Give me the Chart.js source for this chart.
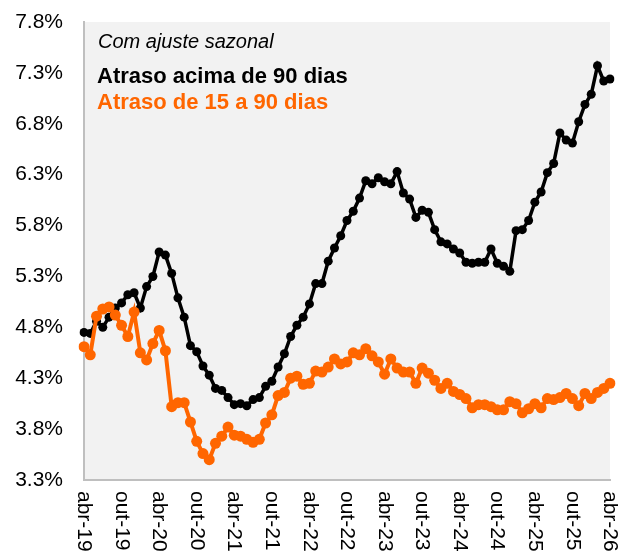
<!DOCTYPE html>
<html>
<head>
<meta charset="utf-8">
<script src="https://cdn.jsdelivr.net/npm/chart.js@4/dist/chart.umd.min.js"></script>
<style>
  html, body { margin: 0; padding: 0; background: #ffffff; }
  #wrap { width: 618px; height: 556px; position: relative; }
</style>
</head>
<body>
<div id="wrap"><canvas id="c" width="618" height="556"></canvas></div>
<script>
// Months (abr-19 .. abr-26)
const monthNames = ['jan','fev','mar','abr','mai','jun','jul','ago','set','out','nov','dez'];
const categories = [];
for (let i = 0; i < 85; i++) {
  const m = (3 + i) % 12;
  const y = 19 + Math.floor((3 + i) / 12);
  categories.push(monthNames[m] + '-' + y);
}

const seriesNames = ['Atraso acima de 90 dias', 'Atraso de 15 a 90 dias'];
const subtitle = 'Com ajuste sazonal';

const over90 = [
  4.75, 4.74, 4.86, 4.80, 4.90, 4.99, 5.04, 5.12, 5.14, 4.99,
  5.20, 5.30, 5.54, 5.51, 5.33, 5.09, 4.90, 4.62, 4.56, 4.42,
  4.33, 4.20, 4.18, 4.11, 4.04, 4.05, 4.03, 4.09, 4.11, 4.22,
  4.27, 4.41, 4.54, 4.71, 4.82, 4.90, 5.03, 5.23, 5.23, 5.45,
  5.58, 5.70, 5.85, 5.94, 6.07, 6.24, 6.21, 6.27, 6.23, 6.21,
  6.33, 6.12, 6.06, 5.88, 5.95, 5.93, 5.76, 5.64, 5.62, 5.57,
  5.53, 5.44, 5.43, 5.44, 5.44, 5.57, 5.43, 5.40, 5.35, 5.75,
  5.76, 5.85, 6.03, 6.13, 6.32, 6.41, 6.71, 6.64, 6.61, 6.82,
  6.99, 7.09, 7.37, 7.22, 7.24
];

const from15to90 = [
  4.61, 4.53, 4.91, 4.98, 5.00, 4.92, 4.82, 4.71, 4.95, 4.55,
  4.48, 4.64, 4.77, 4.57, 4.02, 4.06, 4.06, 3.87, 3.68, 3.56,
  3.50, 3.66, 3.73, 3.82, 3.74, 3.73, 3.70, 3.67, 3.70, 3.86,
  3.94, 4.13, 4.16, 4.30, 4.32, 4.24, 4.25, 4.37, 4.36, 4.41,
  4.49, 4.44, 4.46, 4.55, 4.53, 4.59, 4.52, 4.46, 4.34, 4.49,
  4.40, 4.36, 4.36, 4.25, 4.40, 4.35, 4.28, 4.20, 4.25, 4.17,
  4.14, 4.10, 4.01, 4.04, 4.04, 4.02, 3.99, 3.99, 4.07, 4.05,
  3.96, 4.00, 4.05, 4.01, 4.10, 4.09, 4.11, 4.15, 4.10, 4.03,
  4.15, 4.10, 4.16, 4.20, 4.25
];

const yMin = 3.3, yMax = 7.8, yStep = 0.5;
const labelEvery = 6;

const BLACK = '#000000';
const ORANGE = '#ff6600';

const bgPlugin = {
  id: 'plotBg',
  beforeDraw(chart) {
    const {ctx, chartArea: a} = chart;
    ctx.save();
    ctx.fillStyle = '#f2f2f2';
    ctx.fillRect(a.left, a.top, a.right - a.left, a.bottom - a.top);
    ctx.restore();
  }
};

const textPlugin = {
  id: 'texts',
  afterDraw(chart) {
    const {ctx, chartArea: a} = chart;
    const xs = chart.scales.x;
    ctx.save();
    // rotated x labels (reading top to bottom)
    ctx.fillStyle = '#000';
    ctx.font = '21px "Liberation Sans", Arial, sans-serif';
    ctx.textAlign = 'left';
    ctx.textBaseline = 'middle';
    for (let i = 0; i < categories.length; i += labelEvery) {
      const x = xs.getPixelForValue(i);
      ctx.save();
      ctx.translate(x, a.bottom + 11);
      ctx.rotate(Math.PI / 2);
      ctx.fillText(categories[i], 0, 0);
      ctx.restore();
    }
    // in-plot legend texts
    ctx.textBaseline = 'alphabetic';
    ctx.font = 'italic 20px "Liberation Sans", Arial, sans-serif';
    ctx.fillStyle = '#000';
    ctx.fillText(subtitle, a.left + 14, a.top + 26);
    ctx.font = 'bold 22px "Liberation Sans", Arial, sans-serif';
    ctx.fillStyle = BLACK;
    ctx.fillText(chart.data.datasets[0].label, a.left + 13, a.top + 61);
    ctx.fillStyle = ORANGE;
    ctx.fillText(chart.data.datasets[1].label, a.left + 13, a.top + 87);
    ctx.restore();
  }
};

new Chart(document.getElementById('c'), {
  type: 'line',
  data: {
    labels: categories,
    datasets: [
      {
        label: seriesNames[0],
        data: over90,
        borderColor: BLACK,
        backgroundColor: BLACK,
        borderWidth: 3.5,
        pointRadius: 4.5,
        pointBorderWidth: 0,
        pointBackgroundColor: BLACK,
        tension: 0,
        order: 1
      },
      {
        label: seriesNames[1],
        data: from15to90,
        borderColor: ORANGE,
        backgroundColor: ORANGE,
        borderWidth: 4,
        pointRadius: 5.5,
        pointBorderWidth: 0,
        pointBackgroundColor: ORANGE,
        tension: 0,
        order: 0
      }
    ]
  },
  options: {
    responsive: false,
    animation: false,
    devicePixelRatio: 1,
    layout: { padding: { top: 22, right: 8, left: 0, bottom: 0 } },
    plugins: { legend: { display: false }, tooltip: { enabled: false } },
    scales: {
      x: {
        type: 'category',
        offset: false,
        grid: { display: false, drawTicks: false },
        border: { display: true, color: '#bfbfbf', width: 2 },
        ticks: { display: false },
        afterFit(scale) { scale.height = 76; scale.paddingLeft = 0; scale.paddingRight = 0; }
      },
      y: {
        min: yMin,
        max: yMax,
        grid: { display: false, drawTicks: false },
        border: { display: true, color: '#bfbfbf', width: 2 },
        ticks: {
          stepSize: yStep,
          padding: 21,
          color: '#000',
          font: { family: '"Liberation Sans", Arial, sans-serif', size: 21 },
          callback: (v) => Number(v).toFixed(1) + '%'
        },
        afterFit(scale) { scale.width = 84; scale.paddingTop = 0; scale.paddingBottom = 0; }
      }
    }
  },
  plugins: [bgPlugin, textPlugin]
});
</script>
</body>
</html>
